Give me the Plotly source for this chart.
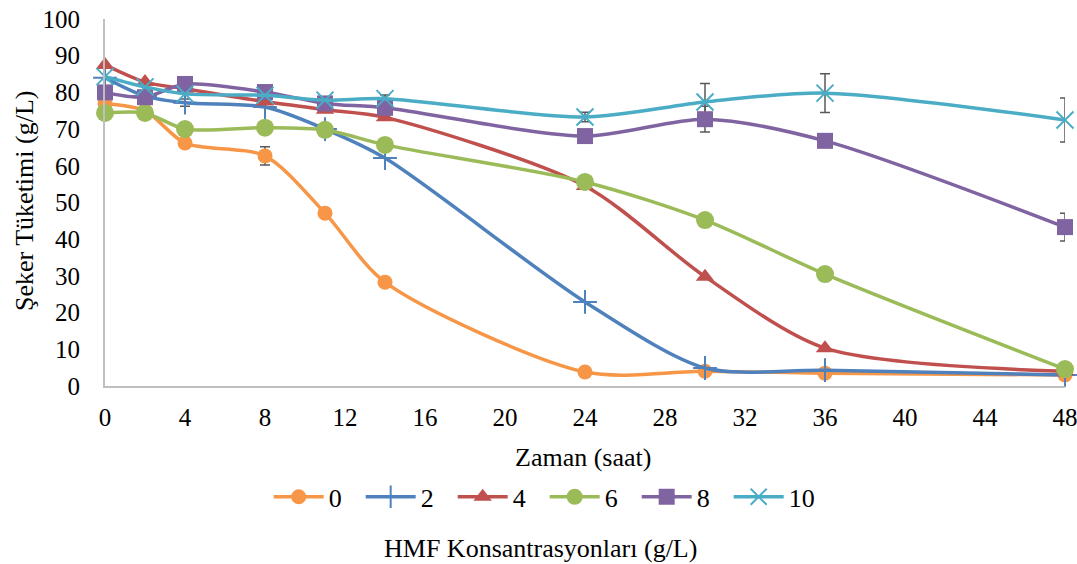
import plotly.graph_objects as go

hours = [0, 2, 4, 8, 11, 14, 24, 30, 36, 48]
series_names = ["0", "2", "4", "6", "8", "10"]
s0 = [77, 75, 66.2, 62.7, 47.1, 28.3, 3.8, 4.0, 3.5, 3.0]
s2 = [84, 79, 77.2, 76, 70, 62.1, 22.9, 4.9, 4.3, 3.0]
s4 = [87.5, 82.8, 81, 77.5, 75.3, 73.2, 54.5, 29.8, 10.3, 4.0]
s6 = [74.4, 74.4, 70.0, 70.4, 69.8, 65.7, 55.6, 45.2, 30.5, 4.6]
s8 = [80, 78.7, 82.3, 80.1, 77, 75.8, 68.1, 72.7, 66.8, 43.3]
s10 = [84.3, 81.5, 79.6, 79.2, 77.9, 78.3, 73.3, 77.4, 79.8, 72.5]
err0 = [0, 0, 0, 2.5, 0, 0, 0, 0, 0, 0]
err2 = [0, 0, 1.0, 0, 0, 0, 0, 0, 0, 0]
err4 = [0, 0, 0, 0, 0, 0, 0, 0, 0, 0]
err6 = [0, 0, 0, 0, 0, 0, 0, 0, 0, 0]
err8 = [0, 0, 0, 0, 0, 0, 0, 3.5, 0, 3.8]
err10 = [0, 0, 0, 0, 0, 1.0, 1.3, 5.0, 5.3, 6.0]

colors = ["#F79646", "#4F81BD", "#C0504D", "#9BBB59", "#8064A2", "#4BACC6"]
symbols = ["circle", "cross-thin", "triangle-up", "circle", "square", "x-thin"]
sizes = [15, 17, 16, 18, 16, 17]
data = [s0, s2, s4, s6, s8, s10]
errs = [err0, err2, err4, err6, err8, err10]

FONT = "Times New Roman, Liberation Serif, serif"
fig = go.Figure()

# error bars (drawn behind the series)
for ys, es in zip(data, errs):
    xs = [h for h, e in zip(hours, es) if e > 0]
    yv = [y for y, e in zip(ys, es) if e > 0]
    ev = [e for e in es if e > 0]
    if not xs:
        continue
    fig.add_trace(go.Scatter(
        x=xs, y=yv, mode="markers", showlegend=False, hoverinfo="skip",
        marker=dict(size=1, color="rgba(0,0,0,0)"),
        error_y=dict(type="data", array=ev, visible=True, color="#595959",
                     thickness=1.5, width=5),
        cliponaxis=False))

for name, ys, c, sym, sz in zip(series_names, data, colors, symbols, sizes):
    mk = dict(symbol=sym, size=sz, color=c)
    if sym in ("cross-thin", "x-thin"):
        mk["line"] = dict(color=c, width=2)
    fig.add_trace(go.Scatter(
        x=hours, y=ys, name=name, mode="lines+markers",
        line=dict(color=c, width=3.5, shape="spline", smoothing=0.8),
        marker=mk, cliponaxis=False))

fig.update_layout(
    width=1077, height=564,
    margin=dict(l=105, r=12, t=19, b=178, autoexpand=False),
    plot_bgcolor="white", paper_bgcolor="white",
    font=dict(family=FONT, size=25, color="#000000"),
    showlegend=True,
    legend=dict(orientation="h", x=0.458, xanchor="center", y=-0.302, yanchor="middle",
                font=dict(family=FONT, size=26), itemwidth=50, traceorder="normal",
                entrywidth=27, entrywidthmode="pixels"),
    xaxis=dict(range=[0, 48], tick0=0, dtick=4, showgrid=False, zeroline=False,
               showline=True, linecolor="#BFBFBF", linewidth=2, ticks="",
               ticklabelstandoff=8, ticklabeloverflow="allow",
               tickfont=dict(family=FONT, size=25)),
    yaxis=dict(range=[0, 100], tick0=0, dtick=10, showgrid=False, zeroline=False,
               showline=True, linecolor="#BFBFBF", linewidth=2, ticks="",
               ticklabelstandoff=18, ticklabeloverflow="allow",
               tickfont=dict(family=FONT, size=25)),
    annotations=[
        dict(text="Zaman (saat)", xref="paper", yref="paper", x=0.498, y=-0.196,
             xanchor="center", yanchor="middle", showarrow=False,
             font=dict(family=FONT, size=26)),
        dict(text="Şeker Tüketimi (g/L)", xref="paper", yref="paper", x=-0.0844, y=0.504,
             xanchor="center", yanchor="middle", showarrow=False, textangle=-90,
             font=dict(family=FONT, size=26)),
        dict(text="HMF Konsantrasyonları (g/L)", xref="paper", yref="paper",
             x=0.454, y=-0.444, xanchor="center", yanchor="middle", showarrow=False,
             font=dict(family=FONT, size=26)),
    ],
)

fig.write_html("out.html")
